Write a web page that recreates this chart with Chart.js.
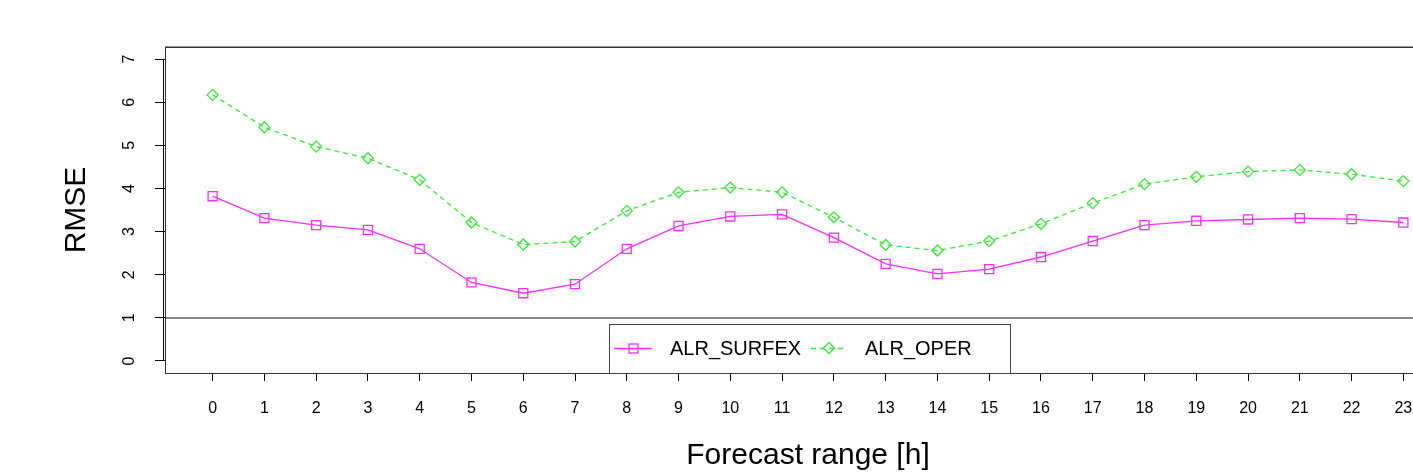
<!DOCTYPE html>
<html>
<head>
<meta charset="utf-8">
<script src="https://cdn.jsdelivr.net/npm/chart.js@4.4.1/dist/chart.umd.min.js"></script>
<style>
  html, body { margin: 0; padding: 0; background: #fff; overflow: hidden; }
  #wrap { width: 1460px; height: 473px; }
</style>
</head>
<body>
<div id="wrap"><canvas id="chart" width="1460" height="473"></canvas></div>
<script>
const hours = [0, 1, 2, 3, 4, 5, 6, 7, 8, 9, 10, 11, 12, 13, 14, 15, 16, 17, 18, 19, 20, 21, 22, 23];
const surfex = [3.82, 3.31, 3.15, 3.04, 2.60, 1.82, 1.57, 1.78, 2.60, 3.13, 3.35, 3.40,
  2.86, 2.25, 2.02, 2.13, 2.41, 2.78, 3.15, 3.25, 3.28, 3.31, 3.29, 3.21];
const oper = [6.17, 5.42, 4.97, 4.70, 4.20, 3.21, 2.70, 2.77, 3.48, 3.91, 4.02, 3.91,
  3.33, 2.69, 2.56, 2.78, 3.18, 3.66, 4.10, 4.27, 4.39, 4.43, 4.33, 4.17];
const yTicks = [0, 1, 2, 3, 4, 5, 6, 7];
const seriesNames = ["ALR_SURFEX", "ALR_OPER"];
const xTitle = "Forecast range [h]";
const yTitle = "RMSE";
const refLine = 1;

const FONT = "'Liberation Sans', Arial, sans-serif";
const magenta = "#ff2eff";
const green = "#33ee33";

// R-like frame, rotated y labels, titles and legend
const rStyle = {
  id: "rStyle",
  beforeDatasetsDraw(chart) {
    const { ctx, chartArea: a, scales } = chart;
    const y1 = Math.round(scales.y.getPixelForValue(refLine));
    ctx.save();
    ctx.strokeStyle = "#8a8a8a";
    ctx.lineWidth = 2;
    ctx.beginPath();
    ctx.moveTo(a.left, y1);
    ctx.lineTo(a.right, y1);
    ctx.stroke();
    ctx.restore();
  },
  afterDraw(chart) {
    const { ctx, chartArea: a, scales } = chart;
    const y = scales.y;
    ctx.save();

    // plot box
    ctx.strokeStyle = "#333";
    ctx.lineWidth = 1;
    ctx.strokeRect(a.left + 0.5, a.top + 0.5, a.right - a.left, a.bottom - a.top);
    ctx.strokeStyle = "#999";
    ctx.beginPath();
    ctx.moveTo(a.left, a.top - 0.5);
    ctx.lineTo(a.right, a.top - 0.5);
    ctx.stroke();

    // y axis line
    ctx.strokeStyle = "#000";
    ctx.beginPath();
    ctx.moveTo(a.left - 1.5, y.getPixelForValue(yTicks[0]));
    ctx.lineTo(a.left - 1.5, y.getPixelForValue(yTicks[yTicks.length - 1]));
    ctx.stroke();

    // y tick labels (rotated like R)
    ctx.fillStyle = "#000";
    ctx.font = "16px " + FONT;
    ctx.textAlign = "center";
    ctx.textBaseline = "middle";
    yTicks.forEach(v => {
      ctx.save();
      ctx.translate(a.left - 35, y.getPixelForValue(v));
      ctx.rotate(-Math.PI / 2);
      ctx.fillText(String(v), 0, 0);
      ctx.restore();
    });

    // axis titles
    ctx.font = "30px " + FONT;
    ctx.save();
    ctx.translate(a.left - 88, (a.top + a.bottom) / 2);
    ctx.rotate(-Math.PI / 2);
    ctx.fillText(yTitle, 0, 0);
    ctx.restore();
    ctx.fillText(xTitle, (a.left + a.right) / 2, a.bottom + 83);

    // legend
    const lx = (a.left + a.right) / 2 - 199;
    const ly = a.bottom - 49;
    ctx.fillStyle = "#fff";
    ctx.fillRect(lx, ly, 401, 49);
    ctx.strokeStyle = "#444";
    ctx.strokeRect(lx + 0.5, ly + 0.5, 401, 49);
    const row = ly + 24;
    ctx.lineWidth = 1.3;
    // SURFEX
    ctx.strokeStyle = magenta;
    ctx.beginPath();
    ctx.moveTo(lx + 5, row + 0.5);
    ctx.lineTo(lx + 43, row + 0.5);
    ctx.stroke();
    ctx.strokeRect(lx + 24 - 4, row - 4, 9, 9);
    // OPER
    ctx.strokeStyle = green;
    ctx.setLineDash([5, 4]);
    ctx.beginPath();
    ctx.moveTo(lx + 202, row + 0.5);
    ctx.lineTo(lx + 238, row + 0.5);
    ctx.stroke();
    ctx.setLineDash([]);
    ctx.beginPath();
    ctx.moveTo(lx + 220, row - 5.5);
    ctx.lineTo(lx + 225.5, row);
    ctx.lineTo(lx + 220, row + 5.5);
    ctx.lineTo(lx + 214.5, row);
    ctx.closePath();
    ctx.stroke();
    ctx.fillStyle = "#000";
    ctx.font = "20px " + FONT;
    ctx.textAlign = "left";
    ctx.fillText(seriesNames[0], lx + 61, row + 1);
    ctx.fillText(seriesNames[1], lx + 256, row + 1);

    ctx.restore();
  }
};

new Chart(document.getElementById("chart"), {
  type: "line",
  data: {
    datasets: [
      {
        label: seriesNames[0],
        data: hours.map((h, i) => ({ x: h, y: surfex[i] })),
        borderColor: magenta,
        borderWidth: 1.3,
        pointStyle: "rect",
        pointRadius: 6.4,
        pointBorderWidth: 1.3,
        pointBorderColor: magenta,
        pointBackgroundColor: "rgba(0,0,0,0)",
        tension: 0,
        fill: false
      },
      {
        label: seriesNames[1],
        data: hours.map((h, i) => ({ x: h, y: oper[i] })),
        borderColor: green,
        borderWidth: 1.3,
        borderDash: [5, 4],
        pointStyle: "rectRot",
        pointRadius: 5.5,
        pointBorderWidth: 1.3,
        pointBorderColor: green,
        pointBackgroundColor: "rgba(0,0,0,0)",
        tension: 0,
        fill: false
      }
    ]
  },
  options: {
    responsive: false,
    animation: false,
    devicePixelRatio: 1,
    layout: { padding: { top: 47, right: 9, left: 0, bottom: 0 } },
    plugins: { legend: { display: false }, title: { display: false }, tooltip: { enabled: false } },
    scales: {
      x: {
        type: "linear",
        min: -0.92,
        max: 23.92,
        afterBuildTicks: s => { s.ticks = hours.map(v => ({ value: v })); },
        afterFit: s => { s.height = 100; },
        ticks: {
          autoSkip: false,
          maxRotation: 0,
          minRotation: 0,
          padding: 18,
          color: "#000",
          font: { family: FONT, size: 16 }
        },
        grid: { drawOnChartArea: false, drawTicks: true, tickLength: 8, color: "#000" },
        border: { display: false }
      },
      y: {
        type: "linear",
        min: -0.28,
        max: 7.28,
        afterBuildTicks: s => { s.ticks = yTicks.map(v => ({ value: v })); },
        afterFit: s => { s.width = 165; },
        ticks: { display: false },
        grid: { drawOnChartArea: false, drawTicks: true, tickLength: 10, color: "#000" },
        border: { display: false }
      }
    }
  },
  plugins: [rStyle]
});
</script>
</body>
</html>
